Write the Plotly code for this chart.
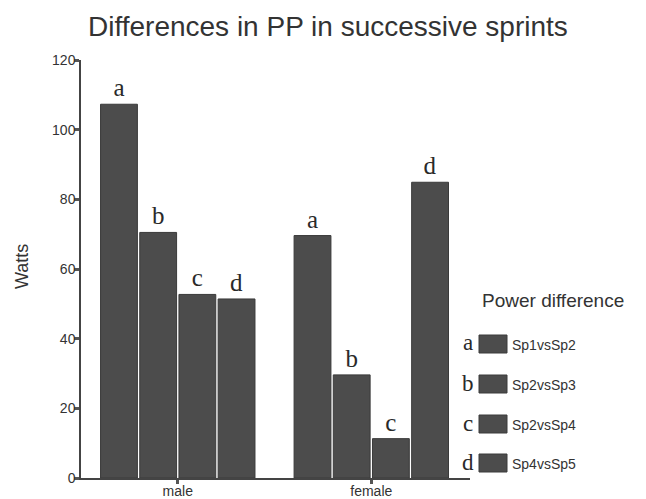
import plotly.graph_objects as go

categories = ["male", "female"]
series_names = ["Sp1vsSp2", "Sp2vsSp3", "Sp2vsSp4", "Sp4vsSp5"]
series_letters = ["a", "b", "c", "d"]
values = {
    "Sp1vsSp2": [107.3, 69.6],
    "Sp2vsSp3": [70.5, 29.6],
    "Sp2vsSp4": [52.7, 11.3],
    "Sp4vsSp5": [51.4, 84.9],
}
y_ticks = [0, 20, 40, 60, 80, 100, 120]

# page body has an 8px margin: work in screenshot pixels, convert to figure pixels
OFF = 8
W, H = 646 - OFF, 499 - OFF
PL, PR, PT, PB = 81, 470, 60, 478          # plot area in screenshot pixels
L, R, T, B = PL - OFF, W - (PR - OFF), PT - OFF, H - (PB - OFF)
BAR_COLOR = "#4c4c4c"
SANS = "Liberation Sans, Arial, sans-serif"
SERIF = "Liberation Serif, Times New Roman, serif"

fig = go.Figure()
for name, letter in zip(series_names, series_letters):
    fig.add_trace(go.Bar(
        x=categories, y=values[name], name=name,
        marker=dict(color=BAR_COLOR, line=dict(color="#3a3a3a", width=1)),
        text=[letter] * len(categories), textposition="outside",
        textfont=dict(family=SERIF, size=25, color="#2a2a2a"),
        cliponaxis=False, showlegend=False,
    ))

def px(x):
    return (x - PL) / (PR - PL)
def py(y):
    return (PB - y) / (PB - PT)

shapes = []
annotations = []
annotations.append(dict(x=px(328), y=py(27), xref="paper", yref="paper",
                        text="Differences in PP in successive sprints", showarrow=False,
                        xanchor="center", yanchor="middle",
                        font=dict(family=SANS, size=28, color="#333")))
annotations.append(dict(x=px(22), y=py(267), xref="paper", yref="paper",
                        text="Watts", showarrow=False, textangle=-90,
                        xanchor="center", yanchor="middle",
                        font=dict(family=SANS, size=18, color="#333")))
annotations.append(dict(x=px(553), y=py(300), xref="paper", yref="paper",
                        text="Power difference", showarrow=False,
                        xanchor="center", yanchor="middle",
                        font=dict(family=SANS, size=19, color="#333")))
row_y = [344, 384, 424, 463]
for i, (name, letter) in enumerate(zip(series_names, series_letters)):
    yc = row_y[i]
    shapes.append(dict(type="rect", xref="paper", yref="paper",
                       x0=px(479), x1=px(507), y0=py(yc + 9), y1=py(yc - 9),
                       fillcolor=BAR_COLOR, line=dict(color="#3a3a3a", width=1)))
    annotations.append(dict(x=px(468), y=py(yc - 1), xref="paper", yref="paper",
                            text=letter, showarrow=False,
                            xanchor="center", yanchor="middle",
                            font=dict(family=SERIF, size=23, color="#2a2a2a")))
    annotations.append(dict(x=px(510), y=py(yc + 1), xref="paper", yref="paper",
                            text=name, showarrow=False, xanchor="left", yanchor="middle",
                            font=dict(family=SANS, size=14, color="#333")))

fig.update_layout(
    width=W, height=H,
    margin=dict(l=L, r=R, t=T, b=B),
    paper_bgcolor="white", plot_bgcolor="white",
    barmode="group", bargap=0.19, bargroupgap=0.06,
    uniformtext=dict(mode=False),
    xaxis=dict(range=[-0.5, 1.51], showline=True, linecolor="#444", linewidth=1.5,
               ticks="outside", ticklen=4, tickwidth=3, tickcolor="#555",
               ticklabelstandoff=-5,
               tickfont=dict(family=SANS, size=14, color="#333"), showgrid=False,
               automargin=False),
    yaxis=dict(range=[0, 120], tickvals=y_ticks, showline=True, linecolor="#444", linewidth=1.5,
               ticks="outside", ticklen=5, tickwidth=3, tickcolor="#555",
               ticklabelstandoff=-4,
               tickfont=dict(family=SANS, size=14, color="#333"), showgrid=False, zeroline=False,
               automargin=False),
    shapes=shapes, annotations=annotations,
)
fig.update_traces(constraintext="none")
fig.write_html("out.html")
